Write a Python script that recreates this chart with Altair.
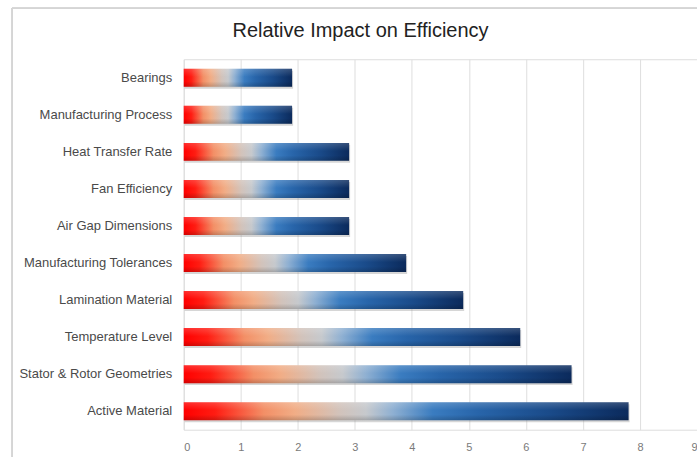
import altair as alt
import pandas as pd

# Factors and their relative impact on motor efficiency (top to bottom)
factors = [
    "Bearings",
    "Manufacturing Process",
    "Heat Transfer Rate",
    "Fan Efficiency",
    "Air Gap Dimensions",
    "Manufacturing Tolerances",
    "Lamination Material",
    "Temperature Level",
    "Stator & Rotor Geometries",
    "Active Material\u00a0",
]
impact = [1.9, 1.9, 2.9, 2.9, 2.9, 3.9, 4.9, 5.9, 6.8, 7.8]
x_ticks = [0, 1, 2, 3, 4, 5, 6, 7, 8, 9]

df = pd.DataFrame({"factor": factors, "impact": impact})

FONT = "Liberation Sans"

# Red -> peach -> grey -> blue -> navy fill along each bar
bar_fill = alt.LinearGradient(
    gradient="linear",
    x1=0, y1=0, x2=1, y2=0,
    stops=[
        alt.GradientStop(color="#ff0000", offset=0.0),
        alt.GradientStop(color="#ff1c12", offset=0.07),
        alt.GradientStop(color="#f38f66", offset=0.18),
        alt.GradientStop(color="#f1ad86", offset=0.25),
        alt.GradientStop(color="#d2c3bb", offset=0.35),
        alt.GradientStop(color="#c6c9cd", offset=0.41),
        alt.GradientStop(color="#8fb0d2", offset=0.47),
        alt.GradientStop(color="#3a7cc0", offset=0.56),
        alt.GradientStop(color="#2865aa", offset=0.66),
        alt.GradientStop(color="#1a4b8a", offset=0.82),
        alt.GradientStop(color="#0b2a5c", offset=1.0),
    ],
)

# Subtle vertical shading that gives the bars a rounded look
shade = alt.LinearGradient(
    gradient="linear",
    x1=0, y1=0, x2=0, y2=1,
    stops=[
        alt.GradientStop(color="rgba(255,255,255,0.18)", offset=0.0),
        alt.GradientStop(color="rgba(255,255,255,0.0)", offset=0.45),
        alt.GradientStop(color="rgba(0,0,0,0.0)", offset=0.7),
        alt.GradientStop(color="rgba(0,0,0,0.18)", offset=1.0),
    ],
)

y_enc = alt.Y(
    "factor:N",
    sort=factors,
    scale=alt.Scale(paddingInner=0.515, paddingOuter=0.2575),
    axis=alt.Axis(
        title=None,
        ticks=False,
        domain=False,
        labelFont=FONT,
        labelFontSize=13,
        labelColor="#4a4a4a",
        labelPadding=12,
        labelLimit=300,
    ),
)
x_enc = alt.X(
    "impact:Q",
    scale=alt.Scale(domain=[0, 9], nice=False),
    axis=alt.Axis(
        title=None,
        values=x_ticks,
        format="d",
        ticks=False,
        domain=False,
        grid=True,
        gridColor="#dedede",
        gridWidth=1,
        labelFont=FONT,
        labelFontSize=11,
        labelColor="#7a7a7a",
        labelPadding=12,
    ),
)

shadow = alt.Chart(df).mark_bar(
    color="#8a8a8a", opacity=0.35, yOffset=2, xOffset=1
).encode(y=y_enc, x=x_enc)

bars = alt.Chart(df).mark_bar(color=bar_fill).encode(y=y_enc, x=x_enc)

gloss = alt.Chart(df).mark_bar(color=shade).encode(y=y_enc, x=x_enc)

# Thin frame around the chart area
frame_left = alt.Chart(df).mark_rule(color="#d6d6d6", strokeWidth=1).encode(
    x=alt.value(-172), y=alt.value(-51), y2=alt.value(420)
)
frame_top = alt.Chart(df).mark_rule(color="#d6d6d6", strokeWidth=1).encode(
    x=alt.value(-172), x2=alt.value(560), y=alt.value(-51)
)

# Chart heading
heading = alt.Chart(pd.DataFrame({"t": ["Relative Impact on Efficiency"]})).mark_text(
    font=FONT, fontSize=20, color="#222222", align="center", baseline="alphabetic"
).encode(text="t:N", x=alt.value(177), y=alt.value(-22))

chart = (
    alt.layer(frame_left, frame_top, heading, shadow, bars, gloss)
    .properties(
        width=514,
        height=371,
        autosize=alt.AutoSizeParams(type="none"),
        padding={"left": 184, "top": 59, "right": 0, "bottom": 28},
    )
    .configure_view(stroke=None)
    .configure(background="white")
)

chart.save("out.html", embed_options={"renderer": "svg", "actions": False})
